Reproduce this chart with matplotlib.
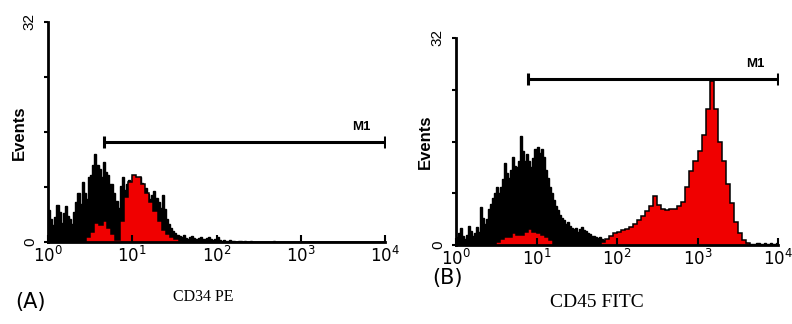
import numpy as np
import matplotlib
matplotlib.use("Agg")
import matplotlib.pyplot as plt

# control (isotype) counts: 160 channels, 0.025 decade each (10^0 .. 10^4)
A_CONTROL = [4.6, 3.4, 2.5, 3.6, 5.4, 4.4, 2.8, 4.2, 5.2, 3.8,
             3.4, 2.6, 4.4, 5.8, 7.2, 5.6, 8.8, 7.2, 6.3, 9.5,
             9.8, 11.2, 12.8, 11.2, 10.6, 9.4, 11.6, 10.2, 9.8, 8.4,
             8.4, 7.2, 6, 5, 8.2, 9.4, 7.6, 8.4, 9, 7.8,
             9.6, 8.8, 8.5, 9.4, 8.6, 7.4, 7.8, 7, 6.2, 6.8,
             7.4, 6.4, 5.8, 5, 6.8, 4.8, 3.4, 2.6, 2, 1.6,
             1.3, 1, 0.9, 0.7, 1, 0.6, 0.5, 0.8, 0.9, 0.6,
             0.4, 0.6, 0.7, 0.5, 0.4, 0.6, 0.8, 0.5, 0.3, 0.4,
             0.7, 0.3, 0.2, 0.3, 0.2, 0.1, 0.3, 0.2, 0.1, 0,
             0.2, 0.1, 0, 0.1, 0, 0, 0.1, 0, 0, 0,
             0, 0, 0, 0, 0, 0, 0, 0.1, 0, 0,
             0, 0, 0, 0, 0, 0, 0, 0, 0, 0,
             0, 0, 0, 0, 0, 0, 0, 0, 0, 0,
             0, 0, 0, 0, 0, 0, 0, 0, 0, 0,
             0, 0, 0, 0, 0, 0, 0, 0, 0, 0,
             0, 0, 0, 0, 0, 0, 0, 0, 0, 0]
B_CONTROL = [1.2, 1.8, 2.6, 1.4, 1, 1.5, 3, 2.2, 1.4, 1.9,
             2.8, 2, 5.8, 4.2, 3.2, 4, 5.6, 6.4, 7.2, 8,
             9, 8, 9, 10.2, 12.6, 11.2, 10.4, 11.6, 13.6, 12.2,
             12, 13, 16.8, 14.6, 13, 14, 13, 12, 13.4, 14.8,
             15.2, 14.2, 14.8, 13.6, 11.6, 10.4, 9, 8, 7, 6,
             5.4, 4.6, 4.2, 3.8, 3.2, 3.6, 3, 2.6, 2.4, 2.6,
             2, 2.4, 2.8, 2.3, 2.1, 1.8, 1.7, 1.4, 1.4, 1.2,
             1.1, 1.3, 0.9, 0.7, 0.5, 0.7, 0.6, 0.4, 0.7, 0.5,
             0.8, 0.6, 0.6, 0.7, 0.5, 0.6, 0.5, 0.4, 0.6, 0.5,
             0.5, 0.4, 0.6, 0.4, 0.4, 0.5, 0.4, 0.3, 0.4, 0.3,
             0.4, 0.3, 0.3, 0.4, 0.4, 0.3, 0.3, 0.2, 0.3, 0.3,
             0.4, 0.3, 0.3, 0.2, 0.3, 0.3, 0.2, 0.2, 0.3, 0.2,
             0.3, 0.2, 0.2, 0.3, 0.3, 0.2, 0.2, 0.2, 0.2, 0.3,
             0.3, 0.2, 0.2, 0.2, 0.3, 0.2, 0.2, 0.3, 0.2, 0.2,
             0.3, 0.2, 0.2, 0.3, 0.3, 0.2, 0.2, 0.2, 0.2, 0.3,
             0.3, 0.2, 0.2, 0.3, 0.2, 0.2, 0.3, 0.2, 0.2, 0.3]

# stained counts: 80 channels, 0.05 decade each
A_CD34 = [0, 0, 0, 0, 0, 0, 0, 0, 0, 0.8,
          1.5, 2.8, 2.5, 3, 2, 1.2, 0.3, 3, 6.5, 8.8,
          9.7, 9.5, 8.5, 7.2, 5.8, 4.5, 3, 1.8, 1.2, 0.7,
          0.4, 0.2, 0, 0, 0, 0, 0, 0, 0, 0,
          0, 0, 0, 0, 0, 0, 0, 0, 0, 0,
          0, 0, 0, 0, 0, 0, 0, 0, 0, 0,
          0, 0, 0, 0, 0, 0, 0, 0, 0, 0,
          0, 0, 0, 0, 0, 0, 0, 0, 0, 0]
B_CD45 = [0, 0, 0, 0, 0, 0, 0, 0, 0, 0,
          0.5, 1, 1.3, 1.2, 1.8, 1.5, 1.6, 2, 2.4, 2,
          1.8, 1.6, 1.3, 0.8, 0, 0, 0, 0, 0, 0,
          0, 0, 0, 0, 0, 0, 0.4, 1, 1.4, 1.8,
          2, 2.3, 2.4, 2.8, 3.2, 3.8, 4.5, 5.2, 6, 7.5,
          6.2, 5.6, 5.4, 5.5, 5.6, 6, 6.6, 9, 11.5, 13,
          14.5, 17, 21, 25.3, 21, 16, 13, 9.5, 6.5, 3.5,
          1.8, 0.8, 0.3, 0, 0, 0, 0, 0, 0, 0]

# M1 gates: (start, end, height)
A_GATE = (4.6, 1e4, 14.5)
B_GATE = (7.8, 1e4, 25.7)

DECADES = [1, 10, 100, 1000, 10000]
DECADE_LABELS = [r"$10^{0}$", r"$10^{1}$", r"$10^{2}$", r"$10^{3}$", r"$10^{4}$"]
Y_MAX = 32


def draw_histogram(ax, control, stained, gate):
    edges_c = np.logspace(0, 4, len(control) + 1)
    edges_s = np.logspace(0, 4, len(stained) + 1)
    ax.stairs(control, edges_c, fill=True, color="black")
    ax.stairs(control, edges_c, color="black", linewidth=1.0)
    ax.stairs(stained, edges_s, fill=True, color="#f00000")
    ax.stairs(stained, edges_s, color="black", linewidth=1.1)

    ax.plot([gate[0], gate[1]], [gate[2], gate[2]], color="black", linewidth=2.2,
            marker="|", markersize=9, markeredgewidth=2.2, solid_capstyle="butt")
    ax.text(5200, gate[2] + 1.4, "M1", fontsize=9.5, fontweight="bold",
            family="Liberation Sans", ha="center", va="bottom")

    ax.set_xscale("log")
    ax.set_xlim(1, 1e4)
    ax.set_ylim(0, Y_MAX)
    ax.set_xticks(DECADES)
    ax.set_xticklabels(DECADE_LABELS, fontsize=12)
    ax.minorticks_off()
    ax.tick_params(axis="x", direction="in", length=5, width=1.5, pad=3)
    ax.set_yticks([0, 8, 16, 24, 32])
    ax.set_yticklabels(["0", "", "", "", "32"], rotation=90, va="center",
                       fontsize=11, family="Liberation Sans")
    ax.tick_params(axis="y", direction="out", length=3, width=1.5, pad=5)
    for side in ("top", "right"):
        ax.spines[side].set_visible(False)
    for side in ("left", "bottom"):
        ax.spines[side].set_linewidth(2)
    ax.set_facecolor("white")


fig = plt.figure(figsize=(7.92, 3.24), dpi=100)

ax_a = fig.add_axes([48 / 792, 1 - 242 / 324, 337 / 792, 220 / 324])
draw_histogram(ax_a, A_CONTROL, A_CD34, A_GATE)

ax_b = fig.add_axes([456 / 792, 1 - 245 / 324, 322 / 792, 207 / 324])
draw_histogram(ax_b, B_CONTROL, B_CD45, B_GATE)

fig.text(0.025, 0.59, "Events", rotation=90, ha="center", va="center",
         fontsize=12, fontweight="bold", family="Liberation Sans")
fig.text(0.537, 0.562, "Events", rotation=90, ha="center", va="center",
         fontsize=12, fontweight="bold", family="Liberation Sans")

fig.text(0.038, 0.068, "(A)", ha="center", va="center", fontsize=15)
fig.text(0.565, 0.142, "(B)", ha="center", va="center", fontsize=15)

fig.text(0.256, 0.083, "CD34 PE", ha="center", va="center", fontsize=11.5,
         family="Liberation Serif")
fig.text(0.754, 0.065, "CD45 FITC", ha="center", va="center", fontsize=14,
         family="Liberation Serif")

fig.savefig("out.png", dpi=100)
